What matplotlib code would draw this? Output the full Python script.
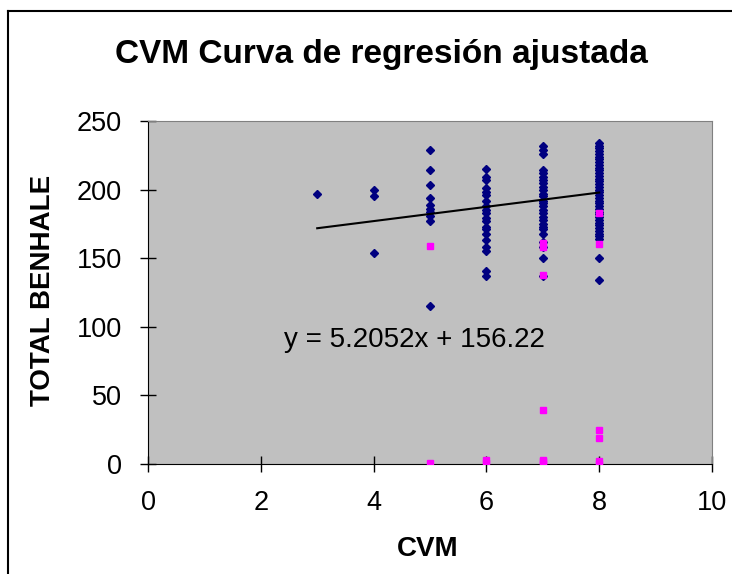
import matplotlib
matplotlib.use("Agg")
import matplotlib.pyplot as plt

plt.rcParams['font.family'] = ['Liberation Sans', 'DejaVu Sans']

# datos (CVM vs TOTAL BENHALE)
cvm_azul = [3,
            4, 4, 4,
            5, 5, 5, 5, 5, 5, 5, 5, 5, 5,
            6, 6, 6, 6, 6, 6, 6, 6, 6, 6, 6, 6, 6, 6, 6, 6, 6, 6, 6, 6,
            7, 7, 7, 7, 7, 7, 7, 7, 7, 7, 7, 7, 7, 7, 7, 7, 7, 7, 7, 7,
            7, 7, 7, 7, 7, 7, 7,
            8, 8, 8, 8, 8, 8, 8, 8, 8, 8, 8, 8, 8, 8, 8, 8, 8, 8, 8, 8,
            8, 8, 8, 8, 8, 8, 8, 8, 8, 8, 8, 8, 8, 8, 8, 8, 8, 8]
total_azul = [197,
              200, 195, 154,
              229, 214, 203, 194, 189, 186, 184, 181, 177, 115,
              215, 209, 207, 201, 198, 192, 188, 185, 183, 179, 177, 173, 171, 168,
              163, 158, 155, 141, 137, 196,
              232, 229, 226, 214, 212, 209, 207, 205, 202, 200, 197, 195, 192, 190,
              188, 185, 183, 180, 178, 175, 173, 171, 168, 162, 158, 150, 137,
              234, 232, 230, 228, 226, 224, 222, 220, 218, 216, 214, 212, 210, 208,
              206, 204, 202, 200, 198, 196, 194, 192, 190, 188, 186, 184, 182, 180,
              178, 176, 174, 172, 170, 168, 166, 164, 150, 134]

cvm_rosa = [5, 5, 6, 6, 7, 7, 7, 7, 7, 7, 7, 8, 8, 8, 8, 8, 8]
total_rosa = [159, 0.5, 1, 3, 161, 158, 138, 39, 0, 2, 3, 183, 160, 25, 19, 0, 2]

# linea de tendencia
pendiente = 5.2052
intercepto = 156.22
x_linea = [3, 8]
y_linea = [pendiente * x + intercepto for x in x_linea]

W, H = 732, 574
fig = plt.figure(figsize=(W / 100, H / 100), dpi=100)
ax = fig.add_axes([148 / W, 1 - 464 / H, (712 - 148) / W, (464 - 121) / H])
ax.set_facecolor('#C0C0C0')

ax.plot(cvm_azul, total_azul, 'D', color='#000080', ms=4.2, mec='#000080', zorder=3)
ax.plot(cvm_rosa, total_rosa, 's', color='#FF00FF', ms=4.5, mec='#FF00FF', zorder=4)
ax.plot(x_linea, y_linea, color='black', lw=1.5, zorder=5)

ax.text(4.72, 90.5, 'y = 5.2052x + 156.22', fontsize=20, ha='center', va='center')

ax.set_xlim(0, 10)
ax.set_ylim(0, 250)
ax.set_xticks([0, 2, 4, 6, 8, 10])
ax.set_yticks([0, 50, 100, 150, 200, 250])
ax.tick_params(direction='inout', length=11.5, width=1, labelsize=19.5, pad=13)

for lado in ['top', 'right']:
    ax.spines[lado].set_color('#808080')
for lado in ['left', 'bottom']:
    ax.spines[lado].set_color('black')

ax.set_xlabel('CVM', fontsize=20, fontweight='bold')
ax.set_ylabel('TOTAL BENHALE', fontsize=20, fontweight='bold')
ax.xaxis.set_label_coords(0.496, -0.21)
ax.yaxis.set_label_coords(-0.163, 0.507)

fig.text(381 / W, 1 - 55 / H, 'CVM Curva de regresión ajustada', fontsize=24,
         fontweight='bold', ha='center', va='center')

# marco exterior del grafico
fig.add_artist(plt.Line2D([8 / W, 8 / W], [-0.1, 1 - 11 / H], color='black', lw=1.5,
                          transform=fig.transFigure))
fig.add_artist(plt.Line2D([8 / W, 1.1], [1 - 11 / H, 1 - 11 / H], color='black', lw=1.5,
                          transform=fig.transFigure))

fig.savefig('out.png', dpi=100)
